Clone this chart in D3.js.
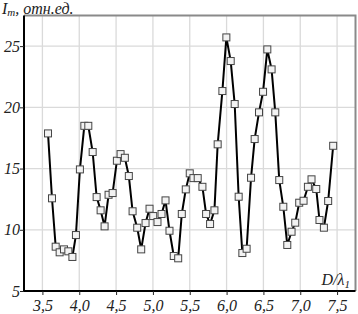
<!DOCTYPE html>
<html>
<head>
<meta charset="utf-8">
<script src="https://cdn.jsdelivr.net/npm/d3@7"></script>
<style>
  body { margin: 0; background: #fff; }
  svg text { font-family: "Liberation Serif", "DejaVu Serif", serif; font-style: italic; }
</style>
</head>
<body>
<svg id="chart" width="358" height="314"></svg>
<script>
// D / lambda_1
var xValues = [3.576, 3.630, 3.680, 3.734, 3.793, 3.852, 3.907, 3.955, 4.009, 4.069,
    4.123, 4.182, 4.236, 4.290, 4.344, 4.398, 4.453, 4.511, 4.561, 4.619,
    4.673, 4.724, 4.787, 4.841, 4.900, 4.954, 5.004, 5.062, 5.117, 5.171,
    5.225, 5.283, 5.343, 5.392, 5.446, 5.500, 5.550, 5.608, 5.672, 5.722,
    5.776, 5.835, 5.879, 5.943, 5.997, 6.056, 6.110, 6.164, 6.214, 6.272,
    6.332, 6.381, 6.440, 6.495, 6.553, 6.611, 6.661, 6.715, 6.770, 6.824,
    6.882, 6.932, 6.986, 7.045, 7.104, 7.153, 7.217, 7.261, 7.321, 7.379, 7.447];
// I_m, rel. units
var yValues = [17.87, 12.57, 8.62, 8.16, 8.40, 8.24, 7.78, 9.57, 14.93, 18.49,
    18.49, 16.35, 12.67, 11.59, 10.28, 12.86, 13.00, 15.64, 16.18, 15.88,
    14.39, 11.51, 10.17, 8.40, 10.55, 11.72, 11.12, 10.63, 11.29, 12.40,
    9.92, 7.86, 7.67, 11.29, 13.30, 14.61, 14.22, 14.22, 13.51, 11.29,
    10.47, 11.59, 16.98, 21.33, 25.71, 23.78, 20.27, 12.70, 8.10, 8.45,
    14.25, 17.41, 19.59, 21.27, 24.73, 23.10, 19.59, 14.06, 11.88, 8.76,
    9.84, 10.58, 12.21, 12.37, 13.51, 14.12, 13.33, 10.80, 10.17, 12.35, 16.86];
var xTicks = [3.5, 4.0, 4.5, 5.0, 5.5, 6.0, 6.5, 7.0, 7.5];
var yTicks = [5, 10, 15, 20, 25];

var data = xValues.map(function (d, i) { return { x: d, y: yValues[i] }; });

var svg = d3.select("#chart"),
    pLeft = 24, pRight = 355.5, pTop = 15.5, pBottom = 291;

var xScale = d3.scaleLinear().domain([3.25, 7.75]).range([pLeft, pRight]),
    yScale = d3.scaleLinear().domain([5, 27.5]).range([pBottom, pTop]);

var fmt = function (d) { return d3.format(".1f")(d).replace(".", ","); };

// grid
svg.append("g").selectAll("line")
    .data(xTicks).enter().append("line")
    .attr("x1", function (d) { return xScale(d); })
    .attr("x2", function (d) { return xScale(d); })
    .attr("y1", pTop).attr("y2", pBottom)
    .attr("stroke", "#dadada").attr("stroke-width", 1.3);
svg.append("g").selectAll("line")
    .data(yTicks.slice(1)).enter().append("line")
    .attr("x1", pLeft).attr("x2", pRight)
    .attr("y1", function (d) { return yScale(d); })
    .attr("y2", function (d) { return yScale(d); })
    .attr("stroke", "#dadada").attr("stroke-width", 1.3);

// top and right frame
svg.append("path")
    .attr("d", "M" + pLeft + "," + pTop + "H" + pRight + "V" + pBottom)
    .attr("fill", "none").attr("stroke", "#8a8a8a").attr("stroke-width", 2);

// axes
var xAxis = svg.append("g")
    .attr("transform", "translate(0," + pBottom + ")")
    .call(d3.axisBottom(xScale).tickValues(xTicks).tickFormat(fmt).tickSize(4).tickSizeOuter(0));
var yAxis = svg.append("g")
    .attr("transform", "translate(" + pLeft + ",0)")
    .call(d3.axisLeft(yScale).tickValues(yTicks).tickFormat(d3.format("d")).tickSize(4).tickSizeOuter(0));

xAxis.select(".domain").attr("stroke", "#000").attr("stroke-width", 2)
    .attr("d", "M" + (pLeft - 1) + ",0H" + pRight);
yAxis.select(".domain").attr("stroke", "#000").attr("stroke-width", 2)
    .attr("d", "M0," + (pBottom + 1) + "V" + pTop);
xAxis.selectAll(".tick line").attr("stroke", "#222");
yAxis.selectAll(".tick line").attr("stroke", "#222");
xAxis.selectAll(".tick text")
    .attr("font-family", "Liberation Serif").attr("font-size", 16)
    .attr("fill", "#222").attr("y", 6).attr("dy", "0.9em");
yAxis.selectAll(".tick text")
    .attr("font-family", "Liberation Serif").attr("font-size", 16)
    .attr("fill", "#222").attr("x", -4);

// line
var line = d3.line()
    .x(function (d) { return xScale(d.x); })
    .y(function (d) { return yScale(d.y); });
svg.append("path")
    .datum(data)
    .attr("d", line)
    .attr("fill", "none")
    .attr("stroke", "#000")
    .attr("stroke-width", 2);

// markers
svg.append("g").selectAll("rect")
    .data(data).enter().append("rect")
    .attr("x", function (d) { return xScale(d.x) - 3.5; })
    .attr("y", function (d) { return yScale(d.y) - 3.5; })
    .attr("width", 7).attr("height", 7)
    .attr("fill", "#f2f2f2")
    .attr("stroke", "#444")
    .attr("stroke-width", 1);

// axis titles
var yt = svg.append("text").attr("x", 2).attr("y", 14)
    .attr("font-size", 16).attr("fill", "#222");
yt.append("tspan").text("I");
yt.append("tspan").attr("font-size", 11).attr("dy", 2).text("m");
yt.append("tspan").attr("dy", -2).text(", отн.ед.");

var xt = svg.append("text").attr("x", 350).attr("y", 285)
    .attr("font-size", 16).attr("fill", "#222").attr("text-anchor", "end");
xt.append("tspan").text("D/λ");
xt.append("tspan").attr("font-size", 11).attr("dy", 3).text("1");
</script>
</body>
</html>
